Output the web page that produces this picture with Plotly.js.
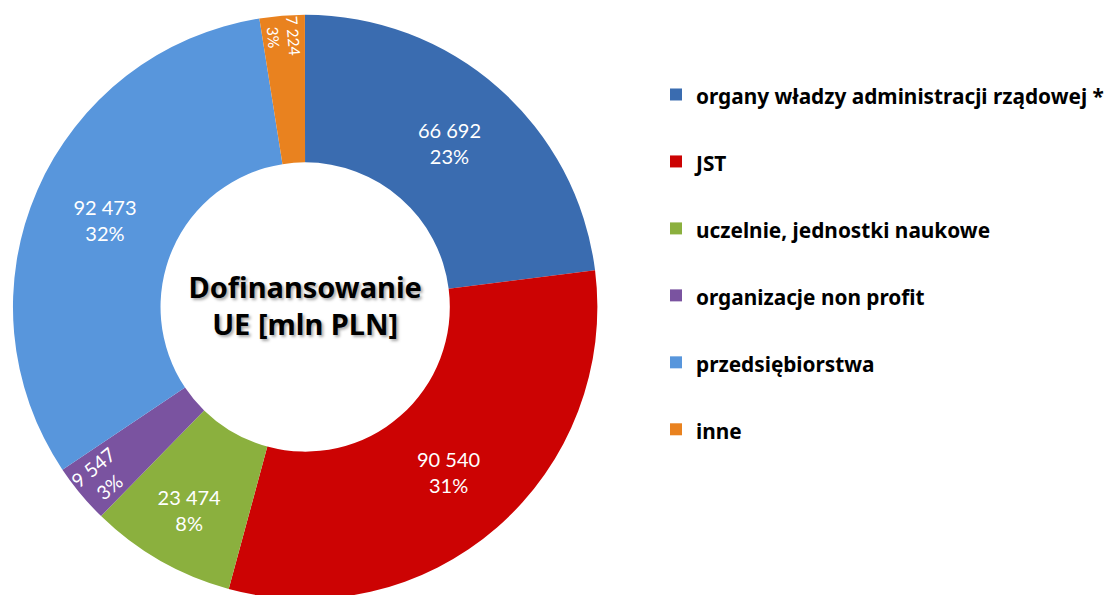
<!DOCTYPE html>
<html>
<head>
<meta charset="utf-8">
<script src="https://cdn.plot.ly/plotly-3.0.1.min.js"></script>
<style>
html,body{margin:0;padding:0;overflow:hidden;background:#fff;}
#chart{width:1109px;height:610px;}
</style>
</head>
<body>
<div id="chart"></div>
<script>
const categories = [
  "organy władzy administracji rządowej *",
  "JST",
  "uczelnie, jednostki naukowe",
  "organizacje non profit",
  "przedsiębiorstwa",
  "inne"
];
const values = [66692, 90540, 23474, 9547, 92473, 7224];
const percentLabels = ["23%", "31%", "8%", "3%", "32%", "3%"];
const smallSlice = [false, false, false, true, false, true];
const colors = ["#3A6CB0", "#CC0303", "#8BB03E", "#7A53A0", "#5896DC", "#E9821F"];
const centerTitle = "Dofinansowanie<br>UE [mln PLN]";

const W = 1109, H = 610;
const legendLabels = categories.map(c => "<span style='font-size:20.8px'>" + c + "</span><br>\u00a0");
const domain = {x: [13 / W, 599 / W], y: [(H - 600) / H, (H - 14) / H]};
const labelFont = {family: "Lato, 'Noto Sans', sans-serif", size: 20, color: "#ffffff"};
const tmpl = "%{value:,.0f}<br>%{text}";

const mainTrace = {
  type: "pie",
  labels: legendLabels,
  values: values,
  text: percentLabels,
  sort: false,
  direction: "clockwise",
  rotation: -0.05,
  hole: 0.495,
  marker: {colors: colors, line: {width: 0}},
  texttemplate: smallSlice.map(s => s ? "" : tmpl),
  textposition: "inside",
  insidetextorientation: "horizontal",
  textfont: labelFont,
  domain: domain,
  title: {
    text: centerTitle,
    position: "middle center",
    font: {family: "'Noto Sans', sans-serif", size: 29, color: "#000000", weight: "bold",
           shadow: "2px 2px 3px rgba(0,0,0,0.35)"}
  }
};

const smallTrace = {
  type: "pie",
  labels: legendLabels,
  values: values,
  text: percentLabels,
  sort: false,
  direction: "clockwise",
  rotation: -0.05,
  hole: 0.495,
  marker: {colors: colors.map(() => "rgba(0,0,0,0)"), line: {width: 0}},
  texttemplate: smallSlice.map(s => s ? tmpl : ""),
  textposition: "inside",
  insidetextorientation: "radial",
  textfont: labelFont,
  domain: domain,
  showlegend: false
};

const layout = {
  width: W, height: H,
  margin: {l: 0, r: 0, t: 0, b: 0},
  paper_bgcolor: "#ffffff",
  separators: ", ",
  showlegend: true,
  legend: {
    x: 658 / W, xanchor: "left",
    y: 1 - 72 / H, yanchor: "top",
    font: {family: "'Noto Sans', sans-serif", size: 24.6, color: "#000000", weight: "bold"},
    valign: "top",
    bgcolor: "rgba(0,0,0,0)",
    borderwidth: 0,
    traceorder: "normal"
  }
};

Plotly.newPlot("chart", [mainTrace, smallTrace], layout, {displayModeBar: false, staticPlot: true});
</script>
</body>
</html>
